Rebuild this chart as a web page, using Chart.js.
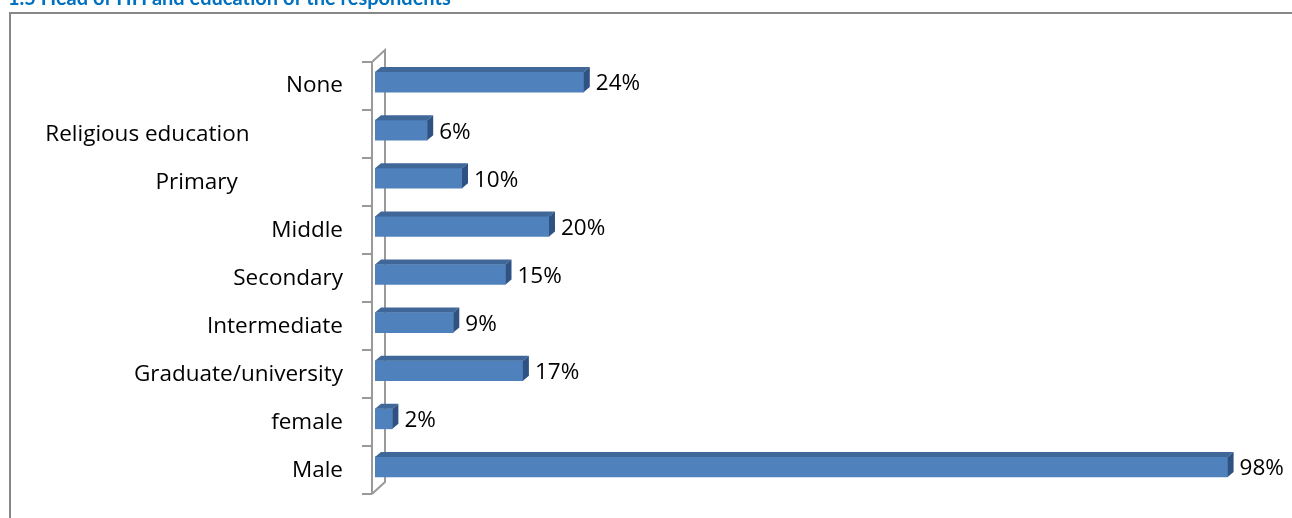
<!DOCTYPE html>
<html lang="en">
<head>
  <meta charset="UTF-8" />
  <title>Head of HH and education of the respondents</title>
  <style>
    body { margin: 0; background: #fff; }
    #wrap { width: 1292px; height: 518px; position: relative; }
  </style>
</head>
<body>
  <div id="wrap"><canvas id="chartCanvas"></canvas></div>
  <script src="https://cdn.jsdelivr.net/npm/chart.js"></script>
  <script>
    // category labels (trailing spaces mimic the odd alignment in the original)
    const categories = ['None', 'Religious education' + '\u00a0'.repeat(16), 'Primary' + '\u00a0'.repeat(18), 'Middle', 'Secondary', 'Intermediate', 'Graduate/university', 'female', 'Male'];
    const values = [24, 6, 10, 20, 15, 9, 17, 2, 98];
    const chartTitle = '1.5 Head of HH and education of the respondents';

    const FONT = '"Open Sans", Lato, sans-serif';

    const decor = {
      id: 'decor',
      beforeDraw(chart) {
        const ctx = chart.ctx;
        const a = chart.chartArea;
        ctx.save();
        // outer frame
        ctx.strokeStyle = '#878787';
        ctx.lineWidth = 2;
        ctx.beginPath();
        ctx.moveTo(1292, 13);
        ctx.lineTo(10, 13);
        ctx.lineTo(10, 518);
        ctx.stroke();
        // title (cut off at the top like the reference)
        ctx.fillStyle = '#0070C0';
        ctx.font = 'bold 20px Lato, sans-serif';
        ctx.textBaseline = 'alphabetic';
        ctx.fillText(chartTitle, 8, 5);
        // 3D wall of the category axis
        const fx = a.left - 3, bx = a.left + 10;
        const top = a.top + 4, bot = a.bottom + 3;
        ctx.strokeStyle = '#9a9a9a';
        ctx.lineWidth = 2;
        ctx.beginPath();
        ctx.moveTo(fx, top);
        ctx.lineTo(fx, bot);
        ctx.moveTo(fx, bot);
        ctx.lineTo(bx, bot - 12);
        ctx.lineTo(bx, top - 12);
        ctx.lineTo(fx, top);
        ctx.stroke();
        // tick marks between categories
        const n = categories.length;
        const step = (bot - top) / n;
        ctx.beginPath();
        for (let i = 0; i <= n; i++) {
          const ty = Math.round(top + i * step);
          ctx.moveTo(fx - 10, ty);
          ctx.lineTo(fx, ty);
        }
        ctx.stroke();
        ctx.restore();
      },
      afterDatasetsDraw(chart) {
        const ctx = chart.ctx;
        const meta = chart.getDatasetMeta(0);
        const dx = 6, dy = 5;
        ctx.save();
        meta.data.forEach((bar, i) => {
          const p = bar.getProps(['x', 'y', 'base', 'height'], true);
          const t = p.y - p.height / 2;
          const b = p.y + p.height / 2;
          // top face
          ctx.fillStyle = '#3F6797';
          ctx.beginPath();
          ctx.moveTo(p.base, t);
          ctx.lineTo(p.base + dx, t - dy);
          ctx.lineTo(p.x + dx, t - dy);
          ctx.lineTo(p.x, t);
          ctx.closePath();
          ctx.fill();
          // side face
          ctx.fillStyle = '#2F5283';
          ctx.beginPath();
          ctx.moveTo(p.x, t);
          ctx.lineTo(p.x + dx, t - dy);
          ctx.lineTo(p.x + dx, b - dy);
          ctx.lineTo(p.x, b);
          ctx.closePath();
          ctx.fill();
          // value label
          ctx.fillStyle = '#000';
          ctx.font = '22.5px ' + FONT;
          ctx.textBaseline = 'middle';
          ctx.textAlign = 'left';
          ctx.fillText(values[i] + '%', p.x + dx + 6, p.y + 2);
        });
        ctx.restore();
      }
    };

    new Chart(document.getElementById('chartCanvas'), {
      type: 'bar',
      data: {
        labels: categories,
        datasets: [{
          data: values,
          backgroundColor: '#4F81BD',
          borderWidth: 0,
          barThickness: 20
        }]
      },
      options: {
        indexAxis: 'y',
        responsive: true,
        maintainAspectRatio: false,
        animation: false,
        layout: { padding: { top: 58, bottom: 27, right: 47, left: 0 } },
        plugins: { legend: { display: false }, tooltip: { enabled: false } },
        scales: {
          x: { display: false, min: 0, max: 100 },
          y: {
            grid: { display: false, drawTicks: false },
            border: { display: false },
            afterFit(scale) {
              scale.width = 375;
              scale.paddingTop = 0;
              scale.paddingBottom = 0;
            },
            ticks: {
              padding: 32,
              labelOffset: 4,
              color: '#000',
              font: { family: FONT, size: 22.5 }
            }
          }
        }
      },
      plugins: [decor]
    });
  </script>
</body>
</html>
